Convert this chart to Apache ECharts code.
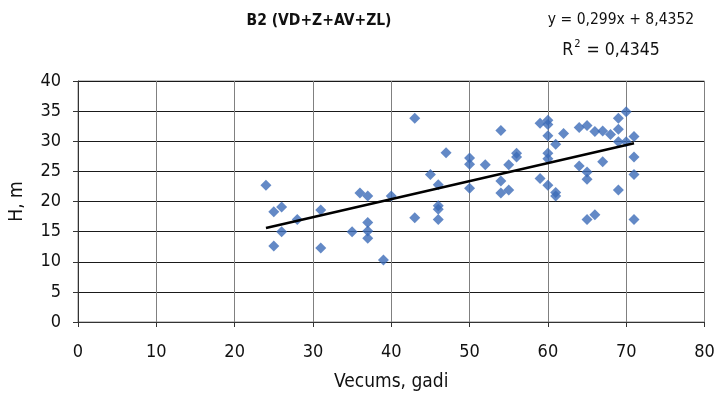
<!DOCTYPE html>
<html><head><meta charset="utf-8">
<script src="https://cdn.jsdelivr.net/npm/echarts@6/dist/echarts.min.js"></script>
<style>html,body{margin:0;padding:0;background:#fff}#c{width:718px;height:398px}</style>
</head><body><div id="c"></div>
<script>
var ages = [24,25,26,28,26,25,31,31,36,37,35,37,37,37,39,40,43,43,45,46,46,46,46,47,50,50,50,52,54,54,54,55,55,56,56,59,59,60,60,60,60,60,60,61,61,61,62,64,64,65,65,65,65,66,66,67,67,68,69,69,69,69,70,70,71,71,71,71];
var heights = [22.7,18.3,19.1,17.0,15.0,12.6,18.6,12.3,21.4,20.9,15.0,16.5,15.1,13.9,10.3,20.9,33.8,17.3,24.5,22.8,19.3,18.7,17.0,28.1,27.2,26.2,22.2,26.1,31.8,23.4,21.4,21.9,26.1,28.0,27.4,33.0,23.8,33.5,32.8,30.9,28.0,27.1,22.7,29.5,21.5,20.9,31.3,32.3,25.9,32.6,24.9,23.7,17.0,31.6,17.8,31.7,26.6,31.1,33.8,32.0,29.9,21.9,34.9,29.9,30.8,27.4,24.5,17.0];
var trendX = [24, 71];
var trendSlope = 0.299, trendIntercept = 8.4352;
var xTicks = [0,10,20,30,40,50,60,70,80];
var yTicks = [0,5,10,15,20,25,30,35,40];
var titleText = 'B2 (VD+Z+AV+ZL)';
var eqText = 'y = 0,299x + 8,4352';
var r2Value = '0,4345';
var xName = 'Vecums, gadi', yName = 'H, m';

var pts = ages.map(function(a,i){return [a, heights[i]];});
var trend = trendX.map(function(x){return [x, trendSlope*x + trendIntercept];});
var F = '"DejaVu Sans Condensed","Open Sans",sans-serif';
var chart = echarts.init(document.getElementById('c'));
chart.setOption({
  animation:false,
  textStyle:{fontFamily:F},
  title:[
    {text:titleText,left:314,top:8,textAlign:'center',textStyle:{fontFamily:F,fontSize:15.5,fontWeight:'bold',color:'#111'}},
    {text:eqText,left:616,top:7,textAlign:'center',textStyle:{fontFamily:F,fontSize:15.5,fontWeight:'normal',color:'#111'}},
    {text:'{a|R}{s|2}{a| = '+r2Value+'}',left:606,top:34,textAlign:'center',textStyle:{fontWeight:'normal',rich:{a:{fontFamily:F,fontSize:17.5,fontWeight:'normal',color:'#111',verticalAlign:'bottom'},s:{fontFamily:F,fontSize:11,fontWeight:'normal',color:'#111',verticalAlign:'top',padding:[0,1,9,1]}}}}
  ],
  grid:{left:77.6,right:13.5,top:81,bottom:76,show:true,borderColor:'#8c8c8c',borderWidth:1},
  xAxis:{type:'value',min:0,max:80,interval:10,
    name:xName,nameLocation:'middle',nameGap:51,nameTextStyle:{fontFamily:F,fontSize:19,color:'#111'},
    axisLine:{show:true,onZero:false,lineStyle:{color:'#333',width:1}},
    axisTick:{show:true,length:5,inside:false,lineStyle:{color:'#333'}},
    axisLabel:{fontFamily:F,fontSize:18,color:'#111',margin:21},
    splitLine:{show:true,lineStyle:{color:'#808080',width:1}}},
  yAxis:{type:'value',min:0,max:40,interval:5,
    name:yName,nameLocation:'middle',nameGap:51,nameTextStyle:{fontFamily:F,fontSize:19,color:'#111'},
    axisLine:{show:true,onZero:false,lineStyle:{color:'#333',width:1}},
    axisTick:{show:true,length:5,lineStyle:{color:'#333'}},
    axisLabel:{fontFamily:F,fontSize:18,color:'#111',margin:17},
    splitLine:{show:true,lineStyle:{color:'#1a1a1a',width:1}}},
  series:[
    {type:'scatter',data:pts,symbol:'diamond',symbolSize:11,itemStyle:{color:'#3c6bb8'},z:3},
    {type:'line',data:trend,symbol:'none',lineStyle:{color:'#000',width:2.5},z:4}
  ]
});
</script></body></html>
